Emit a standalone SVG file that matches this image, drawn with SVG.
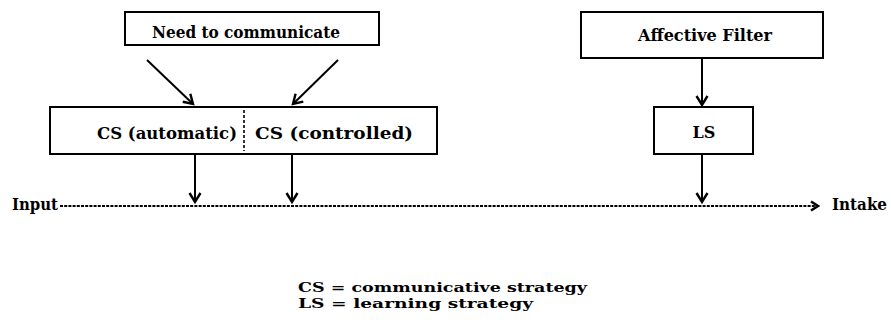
<svg xmlns="http://www.w3.org/2000/svg" width="891" height="322" viewBox="0 0 891 322">
  <defs>
    <!-- open chevron head, drawn along +x so orient="auto" follows each line -->
    <marker id="arrow" markerWidth="14" markerHeight="14" refX="11" refY="7" orient="auto" markerUnits="userSpaceOnUse" viewBox="0 0 14 14">
      <path d="M2,1.5 L11,7 L2,12.5" fill="none" stroke="#000" stroke-width="2.4" stroke-linejoin="miter"/>
    </marker>
    <marker id="chev" markerWidth="12" markerHeight="12" refX="10" refY="6" orient="auto" markerUnits="userSpaceOnUse" viewBox="0 0 12 12">
      <path d="M3,1.5 L10,6 L3,10.5" fill="none" stroke="#000" stroke-width="2.6"/>
    </marker>
  </defs>
  <style>
    .box { fill: #fff; stroke: #000; stroke-width: 2; }
    .lbl { font-family: "DejaVu Serif", "Liberation Serif", serif; font-weight: bold; font-size: 16px; fill: #000; }
    .leg { font-family: "DejaVu Serif", "Liberation Serif", serif; font-weight: bold; font-size: 13.5px; fill: #000; }
    .conn { stroke: #000; stroke-width: 2; fill: none; }
  </style>
  <rect width="891" height="322" fill="#fff"/>

  <g id="need">
    <rect class="box" x="125" y="12" width="254" height="33"/>
    <text class="lbl" x="152" y="38" textLength="188" lengthAdjust="spacingAndGlyphs">Need to communicate</text>
  </g>

  <g id="cs">
    <rect class="box" x="50" y="107" width="387" height="47"/>
    <line x1="244" y1="110" x2="244" y2="151" stroke="#000" stroke-width="1.6" stroke-dasharray="3,2"/>
    <text class="lbl" x="97" y="139" textLength="140" lengthAdjust="spacingAndGlyphs">CS (automatic)</text>
    <text class="lbl" x="255" y="139" textLength="158" lengthAdjust="spacingAndGlyphs">CS (controlled)</text>
  </g>

  <g id="affective">
    <rect class="box" x="581" y="12" width="242" height="46"/>
    <text class="lbl" x="638" y="41" textLength="134" lengthAdjust="spacingAndGlyphs">Affective Filter</text>
  </g>

  <g id="ls">
    <rect class="box" x="654" y="107" width="99" height="47"/>
    <text class="lbl" x="704" y="138" text-anchor="middle">LS</text>
  </g>

  <g id="input">
    <text class="lbl" x="12" y="210" textLength="46" lengthAdjust="spacingAndGlyphs">Input</text>
  </g>

  <g id="intake">
    <text class="lbl" x="832" y="210" textLength="55" lengthAdjust="spacingAndGlyphs">Intake</text>
  </g>

  <g id="legend">
    <text class="leg" x="298" y="292" textLength="289" lengthAdjust="spacingAndGlyphs">CS = communicative strategy</text>
    <text class="leg" x="298" y="308" textLength="235" lengthAdjust="spacingAndGlyphs">LS = learning strategy</text>
  </g>

  <g id="connectors">
    <line class="conn" x1="147" y1="60" x2="193" y2="104" marker-end="url(#arrow)"/>
    <line class="conn" x1="338" y1="60" x2="293" y2="104" marker-end="url(#arrow)"/>
    <line class="conn" x1="702" y1="58" x2="702" y2="105" marker-end="url(#arrow)"/>
    <line class="conn" x1="195" y1="154" x2="195" y2="202" marker-end="url(#arrow)"/>
    <line class="conn" x1="292" y1="154" x2="292" y2="202" marker-end="url(#arrow)"/>
    <line class="conn" x1="702" y1="154" x2="702" y2="202" marker-end="url(#arrow)"/>
    <line class="conn" x1="60" y1="206" x2="818" y2="206" stroke-dasharray="3,1.2" marker-end="url(#chev)"/>
  </g>
</svg>
